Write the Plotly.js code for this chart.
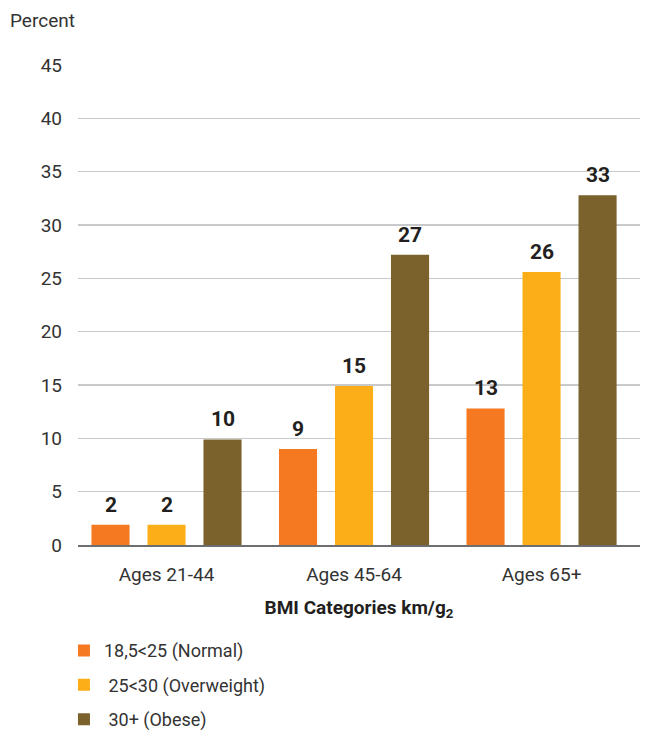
<!DOCTYPE html>
<html><head><meta charset="utf-8">
<script src="https://cdn.plot.ly/plotly-3.0.1.min.js"></script>
<style>html,body{margin:0;padding:0;background:#fff;}</style>
</head><body>
<div id="chart" style="width:645px;height:730px;"></div>
<script>
const categories = ["Ages 21-44", "Ages 45-64", "Ages 65+"];
const seriesNames = ["18,5&lt;25 (Normal)", " 25&lt;30 (Overweight)", " 30+ (Obese)"];
const normalValues = [1.9, 9.0, 12.8];
const overweightValues = [1.9, 14.9, 25.6];
const obeseValues = [9.9, 27.2, 32.8];
const normalLabels = ["2", "9", "13"];
const overweightLabels = ["2", "15", "26"];
const obeseLabels = ["10", "27", "33"];
const yTicks = [0, 5, 10, 15, 20, 25, 30, 35, 40, 45];

const FONT = '"Roboto", "Liberation Sans", sans-serif';
const colors = ["#F47920", "#FBAE17", "#7B612B"];
const series = [normalValues, overweightValues, obeseValues];
const labels = [normalLabels, overweightLabels, obeseLabels];

const data = series.map((vals, i) => ({
  type: "bar",
  x: categories,
  y: vals,
  name: seriesNames[i],
  legendgroup: "g" + i,
  marker: {color: colors[i]},
  text: labels[i],
  textposition: "none",
  offsetgroup: String(i),
  hoverinfo: "none"
}));

// value labels as annotations positioned from the data arrays
const BAR_SLOT = (1 - 0.104) / 3;
const annotations = [];
series.forEach((vals, i) => {
  vals.forEach((v, j) => {
    annotations.push({
      x: j + (i - 1) * BAR_SLOT, y: v, xref: "x", yref: "y",
      text: labels[i][j], showarrow: false,
      xanchor: "center", yanchor: "bottom", yshift: 6,
      font: {family: FONT, size: 21, color: "#231F20", weight: "bold"}
    });
  });
});
annotations.push({
  text: "Percent", xref: "paper", yref: "paper",
  x: -0.125, y: 1.093, xanchor: "left", yanchor: "middle",
  showarrow: false, font: {family: FONT, size: 19, color: "#333"}
});

const layout = {
  width: 645, height: 730,
  margin: {l: 78, r: 5, t: 65, b: 185},
  paper_bgcolor: "#fff", plot_bgcolor: "#fff",
  barmode: "group",
  bargap: 0.104,
  bargroupgap: 0.32,
  font: {family: FONT, size: 18, color: "#333"},
  xaxis: {
    type: "category",
    range: [-0.472, 2.525],
    showgrid: false,
    showline: true, linecolor: "#6d6e71", linewidth: 2,
    ticks: "", tickfont: {family: FONT, size: 19, color: "#333"},
    ticklabelstandoff: 11,
    title: {text: "BMI Categories km/g<sub>2</sub>", font: {family: FONT, size: 19, color: "#231F20", weight: "bold"}, standoff: 16}
  },
  yaxis: {
    range: [0, 45],
    tickvals: yTicks,
    ticktext: yTicks.map(String),
    showgrid: true, gridcolor: "#c8c9cb", gridwidth: 1.3,
    zeroline: false, showline: false,
    ticks: "", ticklabelstandoff: 15,
    tickfont: {family: FONT, size: 19, color: "#333"}
  },
  showlegend: true,
  legend: {
    x: -0.025, xanchor: "left",
    yref: "container", y: 0.134, yanchor: "top",
    orientation: "v", traceorder: "grouped",
    font: {family: FONT, size: 18, color: "#333"},
    tracegroupgap: 8, itemwidth: 30,
    bgcolor: "rgba(0,0,0,0)"
  },
  annotations: annotations
};

Plotly.newPlot("chart", data, layout, {displayModeBar: false, staticPlot: true});
</script>
</body></html>
